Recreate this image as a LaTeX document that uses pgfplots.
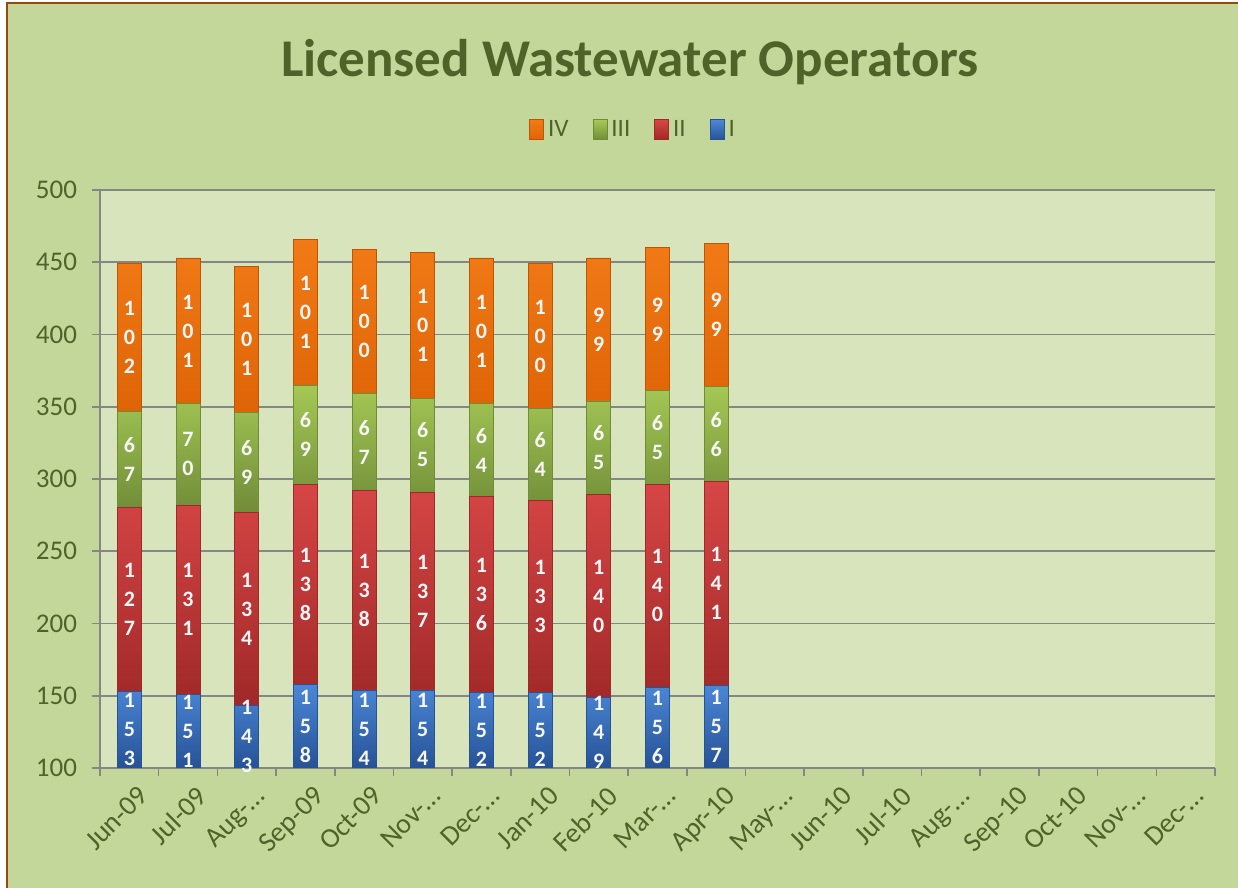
\documentclass[border=0pt]{standalone}
\usepackage{pgfplots}
\pgfplotsset{compat=1.18}
\usepackage{fontspec}
\setmainfont{Carlito}
\definecolor{outerbg}{RGB}{196,215,155}
\definecolor{plotbg}{RGB}{216,228,188}
\definecolor{olive}{RGB}{79,98,40}
\definecolor{brd}{RGB}{152,72,7}
\definecolor{gridc}{RGB}{134,134,134}
\definecolor{lblc}{RGB}{246,246,246}
\definecolor{oTop}{RGB}{242,122,22}
\definecolor{oBot}{RGB}{222,100,6}
\definecolor{gTop}{RGB}{165,200,85}
\definecolor{gBot}{RGB}{112,140,56}
\definecolor{rTop}{RGB}{215,70,70}
\definecolor{rBot}{RGB}{160,40,40}
\definecolor{bTop}{RGB}{75,135,215}
\definecolor{bBot}{RGB}{38,82,150}
\tikzset{lbl/.style={anchor=center, text=lblc, draw=none, fill=none, text opacity=1,
    font=\fontsize{11}{14.5}\selectfont\bfseries, text width=0.6em, align=center, inner sep=0pt}}
\pgfplotsset{lblplot/.style={only marks, scatter, mark=*, mark size=0pt,
    mark options={draw=none, fill=none}, point meta=explicit symbolic,
    scatter/@pre marker code/.code={\node[lbl] at (0pt,0pt) {\fontsize{11}{14.5}\selectfont\bfseries\color{lblc}\pgfplotspointmeta};},
    scatter/@post marker code/.code={}}}
\begin{document}
\begin{tikzpicture}
\fill[white] (-50pt,-60pt) rectangle (569pt,384pt);
\fill[outerbg] (-47pt,-60pt) rectangle (569pt,383pt);
\draw[brd, line width=1.2pt] (-46.5pt,-60pt) -- (-46.5pt,382.6pt) -- (569pt,382.6pt);
\node[font=\fontsize{26.5}{30}\selectfont\bfseries, text=olive] at (265pt,353pt) {Licensed Wastewater Operators};
\begin{axis}[
  at={(0,0)}, anchor=south west,
  scale only axis, width=557.5pt, height=289pt,
  axis background/.style={fill=plotbg},
  ybar stacked, bar width=12pt,
  ymin=100, ymax=500, ytick={100,150,...,500},
  xmin=-0.5, xmax=18.5,
  axis x line*=bottom, axis y line*=left,
  axis line style={gridc, line width=0.8pt, -},
  ymajorgrids, grid style={gridc, line width=0.8pt},
  tick align=outside, major tick length=4pt,
  tick style={gridc, line width=0.8pt},
  xtick={-0.5,0.5,...,18.5}, xticklabels={},
  extra x ticks={0,1,...,18},
  extra x tick labels={Jun-09,Jul-09,Aug-…,Sep-09,Oct-09,Nov-…,Dec-…,Jan-10,Feb-10,Mar-…,Apr-10,May-…,Jun-10,Jul-10,Aug-…,Sep-10,Oct-10,Nov-…,Dec-…},
  extra x tick style={major tick length=0pt, grid=none,
    tick label style={rotate=45, anchor=north east, font=\fontsize{14}{16}\selectfont, text=olive, yshift=-5pt}},
  yticklabel style={font=\fontsize{13.5}{16}\selectfont, text=olive, xshift=-4pt},
  /pgf/number format/assume math mode=true,
  legend style={at={(0.479,1.104)}, anchor=center, draw=none, fill=none,
    legend columns=4, font=\fontsize{12.5}{14}\selectfont, text=olive,
    /tikz/every even column/.append style={column sep=10pt}},
  reverse legend,
  legend image code/.code={\fill[#1] (0pt,-5pt) rectangle (7pt,5pt);},
]
\addplot[draw=bBot, top color=bTop, bottom color=bBot]
  coordinates {(0,153) (1,151) (2,143) (3,158) (4,154) (5,154) (6,152) (7,152) (8,149) (9,156) (10,157)};
\addlegendentry{I}
\addplot[draw=rBot, top color=rTop, bottom color=rBot]
  coordinates {(0,127) (1,131) (2,134) (3,138) (4,138) (5,137) (6,136) (7,133) (8,140) (9,140) (10,141)};
\addlegendentry{II}
\addplot[draw=gBot, top color=gTop, bottom color=gBot]
  coordinates {(0,67) (1,70) (2,69) (3,69) (4,67) (5,65) (6,64) (7,64) (8,65) (9,65) (10,66)};
\addlegendentry{III}
\addplot[draw=oBot!85!black, top color=oTop, bottom color=oBot]
  coordinates {(0,102) (1,101) (2,101) (3,101) (4,100) (5,101) (6,101) (7,100) (8,99) (9,99) (10,99)};
\addlegendentry{IV}
\end{axis}
% value labels, centred in each visible segment
\begin{axis}[
  at={(0,0)}, anchor=south west,
  scale only axis, width=557.5pt, height=289pt,
  ymin=100, ymax=500, xmin=-0.5, xmax=18.5,
  hide axis, clip=false,
]
\addplot[lblplot] coordinates {(0,126.5) [1 5 3] (1,125.5) [1 5 1] (2,121.5) [1 4 3] (3,129) [1 5 8] (4,127) [1 5 4] (5,127) [1 5 4] (6,126) [1 5 2] (7,126) [1 5 2] (8,124.5) [1 4 9] (9,128) [1 5 6] (10,128.5) [1 5 7]};
\addplot[lblplot] coordinates {(0,216.5) [1 2 7] (1,216.5) [1 3 1] (2,210) [1 3 4] (3,227) [1 3 8] (4,223) [1 3 8] (5,222.5) [1 3 7] (6,220) [1 3 6] (7,218.5) [1 3 3] (8,219) [1 4 0] (9,226) [1 4 0] (10,227.5) [1 4 1]};
\addplot[lblplot] coordinates {(0,313.5) [6 7] (1,317) [7 0] (2,311.5) [6 9] (3,330.5) [6 9] (4,325.5) [6 7] (5,323.5) [6 5] (6,320) [6 4] (7,317) [6 4] (8,321.5) [6 5] (9,328.5) [6 5] (10,331) [6 6]};
\addplot[lblplot] coordinates {(0,398) [1 0 2] (1,402.5) [1 0 1] (2,396.5) [1 0 1] (3,415.5) [1 0 1] (4,409) [1 0 0] (5,406.5) [1 0 1] (6,402.5) [1 0 1] (7,399) [1 0 0] (8,403.5) [9 9] (9,410.5) [9 9] (10,413.5) [9 9]};
\end{axis}
\pgfresetboundingbox
\path (-50pt,-60pt) rectangle (569pt,384pt);
\end{tikzpicture}
\end{document}
